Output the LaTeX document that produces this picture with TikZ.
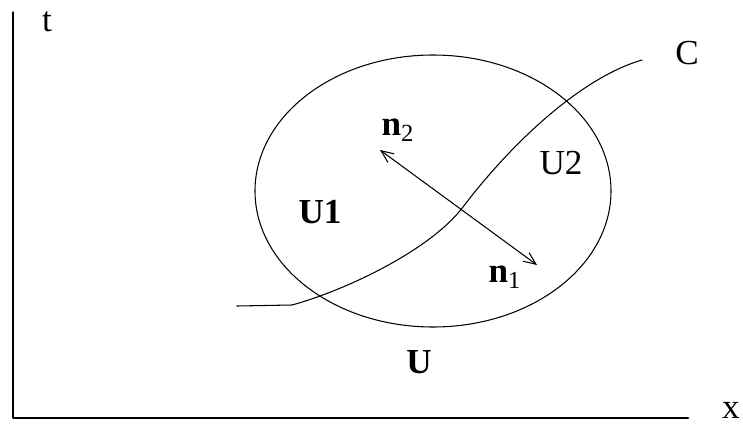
\documentclass[tikz,border=0pt]{standalone}
\usepackage{fontspec}
\setmainfont{Liberation Serif}
\usetikzlibrary{arrows.meta}
\begin{document}
\begin{tikzpicture}[
			line join=round,
			line cap=round,
			truc/.style={line width=1.6pt},
			duong/.style={line width=0.6pt},
			nhan/.style={font=\fontsize{20}{24}\selectfont, inner sep=0pt},
			mui/.style={{Straight Barb[length=7pt,width=6pt]}-{Straight Barb[length=7pt,width=6pt]}}
			]
			\useasboundingbox (0,0) rectangle (14.86,8.56);
			% truc toa do
			\coordinate (O) at (0.26,0.2);
			\coordinate (T) at (0.26,7.75);
			\coordinate (Tt) at (0.26,8.32);
			\coordinate (X) at (13.76,0.2);
			\draw[truc] (T) -- (O) -- (X);
			\draw[duong] (T) -- (Tt);
			\node[nhan] (t) at (0.94,8.12) {t};
			\node[nhan] (x) at (14.62,0.36) {x};
			% mien U
			\draw[duong] (8.66,4.74) ellipse [x radius=3.56, y radius=2.72];
			\node[nhan] (U) at (8.38,1.32) {\textbf{U}};
			\node[nhan] (U1) at (6.40,4.32) {\textbf{U1}};
			\node[nhan] (U2) at (11.22,5.30) {U2};
			% duong cong C
			\draw[duong] (4.74,2.44) -- (5.84,2.46)
				.. controls (6.9,2.75) and (8.6,3.55) .. (9.26,4.42)
				.. controls (10.2,5.66) and (11.6,7.0) .. (12.84,7.36);
			\node[nhan] (C) at (13.74,7.50) {C};
			% vecto phap tuyen
			\coordinate (P) at (9.26,4.42);
			\coordinate (A2) at (7.60,5.56);
			\coordinate (A1) at (10.74,3.26);
			\draw[duong, mui] (A2) -- (A1);
			\node[nhan] (n2) at (7.96,5.96) {\textbf{n}\textsubscript{2}};
			\node[nhan] (n1) at (10.10,3.02) {\textbf{n}\textsubscript{1}};
		\end{tikzpicture}
\end{document}
